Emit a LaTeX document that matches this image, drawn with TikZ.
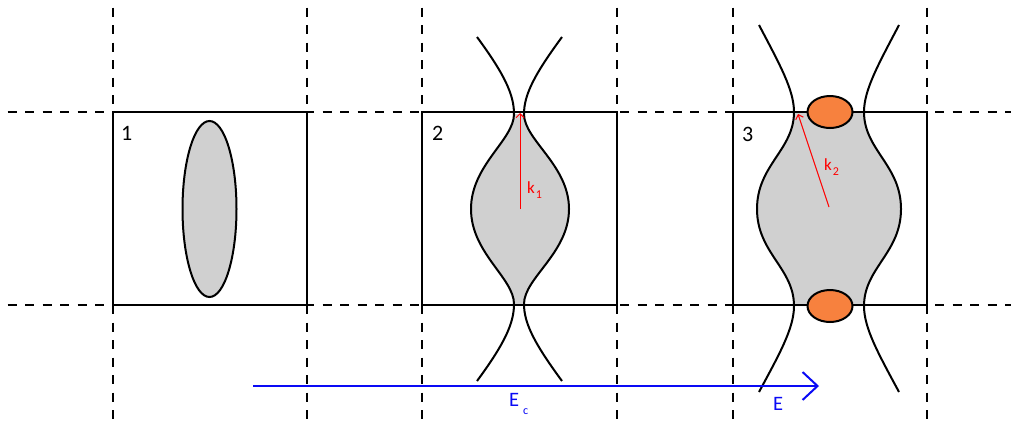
\documentclass[tikz,border=0pt]{standalone}
\usepackage{fontspec}
\setmainfont{Carlito}
\usetikzlibrary{arrows.meta}
\definecolor{blobgrey}{RGB}{208,208,208}
\definecolor{blobor}{RGB}{247,129,62}
\definecolor{eblue}{RGB}{10,10,245}
\newcommand{\lowsub}[2]{\hspace{1pt}\raisebox{-#1}{\fontsize{12}{12}\selectfont #2}}
\tikzset{
  grid/.style={line width=2pt, dash pattern=on 9pt off 8.5pt, dash phase=10pt},
  panel/.style={draw, line width=2.4pt},
  curve/.style={line width=2pt},
  radius/.style={red, line width=1pt, -{Straight Barb[length=4pt,width=8pt]}},
  num/.style={font=\fontsize{22}{22}\selectfont, inner sep=0pt},
  klabel/.style={red, font=\fontsize{17}{17}\selectfont, inner sep=0pt},
  elabel/.style={eblue, font=\fontsize{20.5}{20}\selectfont, inner sep=0pt}
}
\begin{document}
\begin{tikzpicture}[x=1pt,y=-1pt]
\useasboundingbox (0,0) rectangle (1011,421);
% grid
\foreach \yy in {112,305} \draw[grid] (0,\yy) -- (1011,\yy);
\foreach \xx in {113,307,422,617,733,927} \draw[grid] (\xx,0) -- (\xx,421);
% panel boxes
\draw[panel, fill=white] (113,112) rectangle (307,305);
\draw[panel, fill=white] (422,112) rectangle (617,305);
\draw[panel, fill=white] (733,112) rectangle (927,305);
% panel 1
\draw[curve, fill=blobgrey] (209.5,209) ellipse [x radius=27, y radius=88];
\node[num, anchor=north west] (n1) at (121,126) {1};
% panel 2
\fill[blobgrey] (514,114) .. controls (514,140) and (471,165) .. (471,209)
  .. controls (471,253) and (514,278) .. (514,304) -- (524,304)
  .. controls (524,278) and (569,253) .. (569,209)
  .. controls (569,165) and (524,140) .. (524,114) -- cycle;
\draw[curve] (477,37) .. controls (505,75) and (514,95) .. (514,114)
  .. controls (514,140) and (471,165) .. (471,209)
  .. controls (471,253) and (514,278) .. (514,304)
  .. controls (514,323) and (505,343) .. (477,381);
\draw[curve] (562,37) .. controls (534,75) and (524,95) .. (524,114)
  .. controls (524,140) and (569,165) .. (569,209)
  .. controls (569,253) and (524,278) .. (524,304)
  .. controls (524,323) and (534,343) .. (562,381);
\draw[panel] (422,112) -- (617,112) (422,305) -- (617,305);
\coordinate (c2) at (520,209);
\coordinate (t2) at (520,113);
\draw[radius] (c2) -- (t2);
\node[klabel, anchor=base west] (k1) at (527,193) {k\lowsub{5pt}{1}};
\node[num, anchor=north west] (n2) at (432,126) {2};
% panel 3
\fill[blobgrey] (794,112) .. controls (794,150) and (757,165) .. (757,209)
  .. controls (757,253) and (794,268) .. (794,306) -- (864,306)
  .. controls (864,268) and (901,253) .. (901,209)
  .. controls (901,165) and (864,150) .. (864,112) -- cycle;
\draw[panel] (733,112) -- (927,112) (733,305) -- (927,305);
\draw[curve] (759,25) .. controls (780,65) and (794,90) .. (794,112)
  .. controls (794,150) and (757,165) .. (757,209)
  .. controls (757,253) and (794,268) .. (794,306)
  .. controls (794,328) and (780,353) .. (759,392);
\draw[curve] (899,25) .. controls (878,65) and (864,90) .. (864,112)
  .. controls (864,150) and (901,165) .. (901,209)
  .. controls (901,253) and (864,268) .. (864,306)
  .. controls (864,328) and (878,353) .. (899,392);
\draw[curve, fill=blobor] (830,112) ellipse [x radius=22.5, y radius=16];
\draw[curve, fill=blobor] (830,306) ellipse [x radius=22.5, y radius=16];
\coordinate (c3) at (829,207);
\coordinate (t3) at (798,114);
\draw[radius] (c3) -- (t3);
\node[klabel, anchor=base west] (k2) at (824,170) {k\lowsub{5.5pt}{2}};
\node[num, anchor=north west] (n3) at (742,127) {3};
% field arrow
\coordinate (a0) at (253,386);
\coordinate (a1) at (819,386);
\draw[eblue, line width=2pt, -{Straight Barb[length=15pt,width=28pt]}] (a0) -- (a1);
\node[elabel, anchor=base west] (ec) at (509,406) {E\hspace{3pt}\lowsub{8pt}{c}};
\node[elabel, anchor=base west] (e) at (773,410) {E};
\end{tikzpicture}
\end{document}
